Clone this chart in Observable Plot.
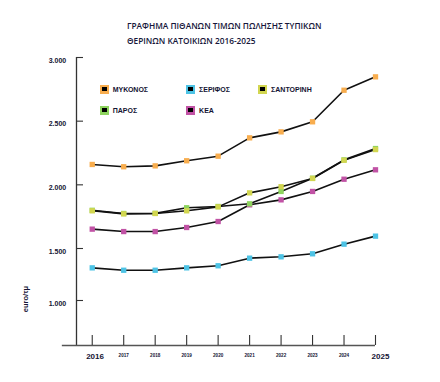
<!DOCTYPE html>
<html>
<head>
<meta charset="utf-8">
<script src="https://cdn.jsdelivr.net/npm/d3@7"></script>
<script src="https://cdn.jsdelivr.net/npm/@observablehq/plot@0.6"></script>
<style>
  html, body { margin: 0; padding: 0; background: #fff; }
  #wrap { position: relative; width: 440px; height: 382px; overflow: hidden; }
  #wrap svg { position: absolute; left: 0; top: 0; }
  #title { position: absolute; left: 127px; top: 17.5px; font-family: "Open Sans", sans-serif; font-weight: 600; font-size: 8.3px; line-height: 15px; color: #16163a; white-space: nowrap; }
  #legend { position: absolute; left: 99.8px; top: 78.5px; display: grid; grid-template-columns: 86.4px 72px auto; grid-auto-rows: 21px; align-items: center; font-family: "Liberation Sans", Arial, sans-serif; font-weight: bold; font-size: 7px; color: #141433; }
  .item { display: flex; align-items: center; }
  .sw { width: 9px; height: 9px; display: flex; align-items: center; justify-content: center; margin-right: 3.9px; }
  .sw span { width: 4.5px; height: 4.5px; background: #000; display: block; }
  #ylabel { position: absolute; left: 25px; top: 299px; transform: translate(-50%, -50%) rotate(-90deg); font-family: "Liberation Sans", Arial, sans-serif; font-weight: bold; font-size: 7.5px; color: #141433; white-space: nowrap; }
</style>
</head>
<body>
<div id="wrap">
  <div id="title">ΓΡΑΦΗΜΑ ΠΙΘΑΝΩΝ ΤΙΜΩΝ ΠΩΛΗΣΗΣ ΤΥΠΙΚΩΝ<br>ΘΕΡΙΝΩΝ ΚΑΤΟΙΚΙΩΝ 2016-2025</div>
  <div id="legend"></div>
  <div id="ylabel">euro/τμ</div>
</div>
<script>
// ---- data ----
const years = [2016, 2017, 2018, 2019, 2020, 2021, 2022, 2023, 2024, 2025];
const mykonos   = [2160, 2142, 2149, 2189, 2225, 2369, 2416, 2495, 2743, 2848];
const serifos   = [1314, 1291, 1291, 1314, 1334, 1407, 1420, 1449, 1534, 1597];
const kea       = [1652, 1633, 1633, 1665, 1712, 1843, 1882, 1948, 2044, 2118];
const paros     = [1800, 1775, 1776, 1820, 1830, 1851, 1948, 2052, 2196, 2285];
const santorini = [1796, 1772, 1775, 1796, 1827, 1937, 1985, 2050, 2193, 2277];

const seriesNames  = ["ΜΥΚΟΝΟΣ", "ΣΕΡΙΦΟΣ", "ΣΑΝΤΟΡΙΝΗ", "ΠΑΡΟΣ", "ΚΕΑ"];
const seriesColors = ["#F8AD4E", "#4DC3E5", "#D2D650", "#8ED45E", "#C152A5"];

const yTicks = [1000, 1500, 2000, 2500, 3000];
const yTickLabels = ["1.000", "1.500", "2.000", "2.500", "3.000"];
const bigYears = [2016, 2025];
const smallYears = [2017, 2018, 2019, 2020, 2021, 2022, 2023, 2024];

// draw order (later on top)
const drawOrder = [
  ["ΜΥΚΟΝΟΣ", mykonos], ["ΣΕΡΙΦΟΣ", serifos], ["ΚΕΑ", kea],
  ["ΠΑΡΟΣ", paros], ["ΣΑΝΤΟΡΙΝΗ", santorini]
];
const table = drawOrder.flatMap(([name, vals]) => vals.map((v, i) => ({series: name, year: years[i], value: v})));

const axisX0 = 2015.5;   // position of the vertical axis
const axisXLeft = 2015.05;
const axisYMin = 567;    // bottom of the value axis

const chart = Plot.plot({
  width: 440, height: 382, margin: 0,
  style: {background: "transparent", fontFamily: "Liberation Sans, Arial, sans-serif"},
  x: {type: "linear", domain: [axisX0, 2025], range: [76, 375], axis: null},
  y: {type: "linear", domain: [axisYMin, 1000, 1500, 3000], range: [345, 300, 248, 57], axis: null},
  color: {domain: seriesNames, range: seriesColors},
  marks: [
    Plot.ruleX([axisX0], {y1: axisYMin, y2: 3000, stroke: "#333", strokeWidth: 1.3}),
    Plot.ruleY([axisYMin], {x1: axisXLeft, x2: 2025, stroke: "#555", strokeWidth: 1.3}),
    Plot.ruleX(years, {x: d => d, y1: axisYMin, y2: axisYMin, insetTop: -10, stroke: "#333", strokeWidth: 1.1}),
    Plot.ruleY(yTicks, {y: d => d, x1: axisX0, x2: axisX0, insetRight: -7, stroke: "#333", strokeWidth: 1.1}),
    Plot.text(yTicks, {x: axisX0, y: d => d, text: (d, i) => yTickLabels[i], textAnchor: "end", dx: -10.3, dy: 3, fontSize: 7, fontWeight: "bold", fill: "#141433"}),
    Plot.text(smallYears, {x: d => d, y: axisYMin, text: d => String(d), dy: 10, fontSize: 4.6, fontWeight: "bold", fill: "#141433"}),
    Plot.text([bigYears[0]], {x: d => d, y: axisYMin, text: d => String(d), dx: 2.8, dy: 10.7, fontSize: 8, fontWeight: "bold", fill: "#141433"}),
    Plot.text([bigYears[1]], {x: d => d, y: axisYMin, text: d => String(d), dx: 5, dy: 10.7, fontSize: 8, fontWeight: "bold", fill: "#141433"}),
    Plot.line(table, {x: "year", y: "value", z: "series", stroke: "#111", strokeWidth: 1.6}),
    Plot.dot(table, {x: "year", y: "value", fill: "series", symbol: "square", r: 3})
  ]
});
document.getElementById("wrap").prepend(chart);

// legend
const legend = document.getElementById("legend");
seriesNames.forEach((name, i) => {
  const item = document.createElement("div");
  item.className = "item";
  const sw = document.createElement("div");
  sw.className = "sw";
  sw.style.background = seriesColors[i];
  sw.appendChild(document.createElement("span"));
  const lab = document.createElement("span");
  lab.textContent = name;
  item.appendChild(sw);
  item.appendChild(lab);
  legend.appendChild(item);
});
</script>
</body>
</html>
